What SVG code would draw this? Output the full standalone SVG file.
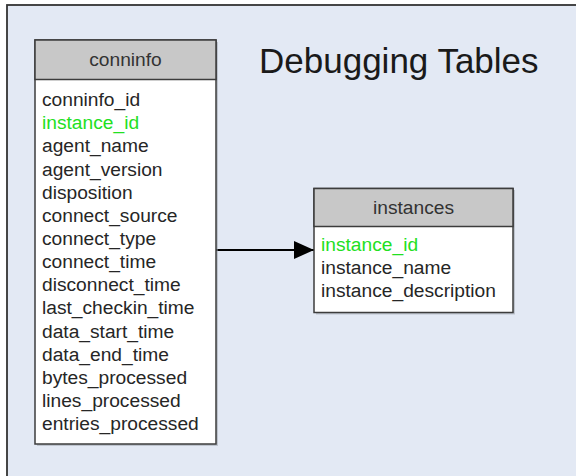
<svg xmlns="http://www.w3.org/2000/svg" width="576" height="476" viewBox="0 0 576 476">
<defs>
<style>
text{font-family:"Liberation Sans",Arial,sans-serif;fill:#262626}
.hdr{font-size:19.2px;text-anchor:middle;fill:#333}
.row{font-size:19.2px}
.key{fill:#22e022}
.title{font-size:35px;fill:#1a1a1a}
.tbl{fill:#ffffff;stroke:#3c3c3c;stroke-width:1.5}
.head{fill:#c8c8c8;stroke:#3c3c3c;stroke-width:1.5}
.shadow{fill:#9aa0a8;opacity:0.5}
</style>
<marker id="arr" markerWidth="20" markerHeight="18" refX="20" refY="9" orient="auto" markerUnits="userSpaceOnUse">
<path d="M0,0 L20,9 L0,18 Z" fill="#000"/>
</marker>
</defs>
<rect x="0" y="0" width="576" height="476" fill="#ffffff"/>
<rect x="7" y="5" width="580" height="480" fill="#e3e9f4" stroke="#333" stroke-width="1.8"/>
<text class="title" x="259" y="73">Debugging Tables</text>
<g id="connectors">
<line x1="216" y1="250" x2="314" y2="250" stroke="#000" stroke-width="2" marker-end="url(#arr)"/>
</g>
<g id="conninfo">
<rect class="shadow" x="37" y="42" width="181" height="404"/>
<rect class="tbl" x="35" y="40" width="181" height="404"/>
<rect class="head" x="35" y="40" width="181" height="39.5"/>
<text class="hdr" x="125.5" y="66">conninfo</text>
<text class="row" x="42" y="106">conninfo_id</text>
<text class="row key" x="42" y="129.2">instance_id</text>
<text class="row" x="42" y="152.3">agent_name</text>
<text class="row" x="42" y="175.5">agent_version</text>
<text class="row" x="42" y="198.6">disposition</text>
<text class="row" x="42" y="221.8">connect_source</text>
<text class="row" x="42" y="244.9">connect_type</text>
<text class="row" x="42" y="268.1">connect_time</text>
<text class="row" x="42" y="291.2">disconnect_time</text>
<text class="row" x="42" y="314.4">last_checkin_time</text>
<text class="row" x="42" y="337.5">data_start_time</text>
<text class="row" x="42" y="360.7">data_end_time</text>
<text class="row" x="42" y="383.8">bytes_processed</text>
<text class="row" x="42" y="407">lines_processed</text>
<text class="row" x="42" y="430">entries_processed</text>
</g>
<g id="instances">
<rect class="shadow" x="316" y="190" width="199" height="124.5"/>
<rect class="tbl" x="314" y="188.5" width="199" height="124"/>
<rect class="head" x="314" y="188.5" width="199" height="38"/>
<text class="hdr" x="413.5" y="213.5">instances</text>
<text class="row key" x="321" y="251">instance_id</text>
<text class="row" x="321" y="274">instance_name</text>
<text class="row" x="321" y="297">instance_description</text>
</g>
</svg>
